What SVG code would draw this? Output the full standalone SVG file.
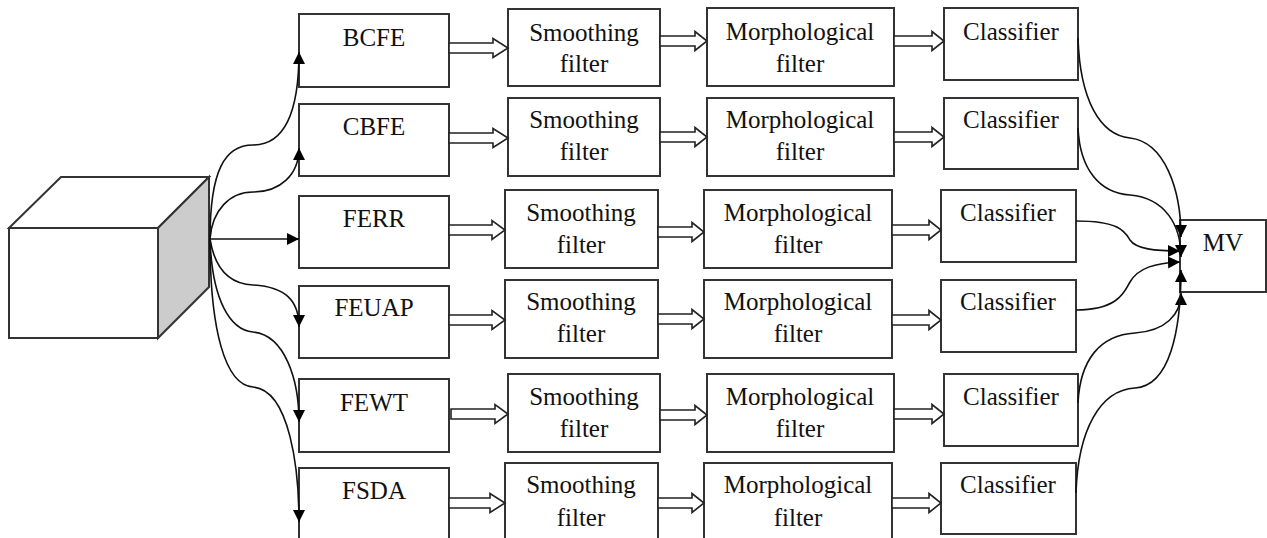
<svg xmlns="http://www.w3.org/2000/svg" width="1267" height="538" viewBox="0 0 1267 538">
<style>
.box{fill:#fff;stroke:#333;stroke-width:2}
.t{font-family:"Liberation Serif","Times New Roman",serif;font-size:25px;fill:#111;text-anchor:middle}
.ha{fill:#fff;stroke:#222;stroke-width:1.6;stroke-linejoin:miter}
.c{fill:none;stroke:#111;stroke-width:1.6}
</style>
<defs>
<marker id="ah" markerUnits="userSpaceOnUse" markerWidth="13" markerHeight="13" refX="12" refY="6" orient="auto">
<path d="M0,0 L12,6 L0,12 Z" fill="#000"/>
</marker>
</defs>
<rect width="1267" height="538" fill="#fff"/>

<g id="cube">
<polygon points="9,228 61,177 209,177 158,228" fill="#fff" stroke="#333" stroke-width="2"/>
<polygon points="158,228 209,177 209,287 158,338" fill="#ccc" stroke="#333" stroke-width="2"/>
<rect x="9" y="228" width="149" height="110" fill="#fff" stroke="#333" stroke-width="2"/>
</g>

<g id="bcfe"><rect class="box" x="299" y="14" width="150" height="73"/><text class="t" x="374" y="46">BCFE</text></g>
<g id="smooth1"><rect class="box" x="508" y="9" width="152" height="77"/><text class="t" x="584" y="41">Smoothing</text><text class="t" x="584" y="72">filter</text></g>
<g id="morph1"><rect class="box" x="707" y="8" width="187" height="78"/><text class="t" x="800" y="40">Morphological</text><text class="t" x="800" y="72">filter</text></g>
<g id="class1"><rect class="box" x="944" y="8" width="134" height="72"/><text class="t" x="1011" y="40">Classifier</text></g>

<g id="cbfe"><rect class="box" x="299" y="104" width="150" height="72"/><text class="t" x="374" y="135">CBFE</text></g>
<g id="smooth2"><rect class="box" x="508" y="98" width="152" height="78"/><text class="t" x="584" y="128">Smoothing</text><text class="t" x="584" y="160">filter</text></g>
<g id="morph2"><rect class="box" x="707" y="98" width="187" height="78"/><text class="t" x="800" y="128">Morphological</text><text class="t" x="800" y="160">filter</text></g>
<g id="class2"><rect class="box" x="944" y="98" width="134" height="71"/><text class="t" x="1011" y="128">Classifier</text></g>

<g id="ferr"><rect class="box" x="299" y="196" width="150" height="72"/><text class="t" x="374" y="227">FERR</text></g>
<g id="smooth3"><rect class="box" x="505" y="190" width="153" height="78"/><text class="t" x="581" y="221">Smoothing</text><text class="t" x="581" y="253">filter</text></g>
<g id="morph3"><rect class="box" x="704" y="190" width="188" height="78"/><text class="t" x="798" y="221">Morphological</text><text class="t" x="798" y="253">filter</text></g>
<g id="class3"><rect class="box" x="941" y="190" width="135" height="72"/><text class="t" x="1008" y="221">Classifier</text></g>

<g id="feuap"><rect class="box" x="299" y="286" width="150" height="72"/><text class="t" x="374" y="316">FEUAP</text></g>
<g id="smooth4"><rect class="box" x="505" y="280" width="153" height="78"/><text class="t" x="581" y="310">Smoothing</text><text class="t" x="581" y="342">filter</text></g>
<g id="morph4"><rect class="box" x="704" y="280" width="188" height="78"/><text class="t" x="798" y="310">Morphological</text><text class="t" x="798" y="342">filter</text></g>
<g id="class4"><rect class="box" x="941" y="280" width="135" height="72"/><text class="t" x="1008" y="310">Classifier</text></g>

<g id="fewt"><rect class="box" x="299" y="379" width="150" height="73"/><text class="t" x="374" y="411">FEWT</text></g>
<g id="smooth5"><rect class="box" x="508" y="374" width="152" height="78"/><text class="t" x="584" y="405">Smoothing</text><text class="t" x="584" y="437">filter</text></g>
<g id="morph5"><rect class="box" x="707" y="374" width="187" height="78"/><text class="t" x="800" y="405">Morphological</text><text class="t" x="800" y="437">filter</text></g>
<g id="class5"><rect class="box" x="944" y="374" width="134" height="72"/><text class="t" x="1011" y="405">Classifier</text></g>

<g id="fsda"><rect class="box" x="299" y="468" width="150" height="80"/><text class="t" x="374" y="499">FSDA</text></g>
<g id="smooth6"><rect class="box" x="505" y="463" width="153" height="85"/><text class="t" x="581" y="493">Smoothing</text><text class="t" x="581" y="526">filter</text></g>
<g id="morph6"><rect class="box" x="704" y="463" width="188" height="85"/><text class="t" x="798" y="493">Morphological</text><text class="t" x="798" y="526">filter</text></g>
<g id="class6"><rect class="box" x="941" y="463" width="135" height="71"/><text class="t" x="1008" y="493">Classifier</text></g>

<g id="mv"><rect class="box" x="1180" y="220" width="86" height="72"/><text class="t" x="1223" y="251">MV</text></g>

<g id="connectors">
<path class="c" d="M210,239 C210,170 225,145 253,145 C285,145 299,110 299,52" marker-end="url(#ah)"/>
<path class="c" d="M210,239 C212,210 230,192 253,192 C280,192 299,175 299,148" marker-end="url(#ah)"/>
<path class="c" d="M210,239 L299,239" marker-end="url(#ah)"/>
<path class="c" d="M210,239 C215,270 230,284 253,285 C285,287 299,300 299,327" marker-end="url(#ah)"/>
<path class="c" d="M210,239 C212,300 230,330 253,332 C285,335 299,380 299,422" marker-end="url(#ah)"/>
<path class="c" d="M210,239 C210,330 225,385 253,387 C290,390 299,470 299,522" marker-end="url(#ah)"/>

<path class="c" d="M1078,38 C1080,100 1100,135 1130,138 C1165,142 1181,190 1181,237" marker-end="url(#ah)"/>
<path class="c" d="M1078,128 C1080,170 1100,193 1130,195 C1165,198 1181,225 1181,257" marker-end="url(#ah)"/>
<path class="c" d="M1076,221 C1120,221 1125,232 1130,240 C1136,249 1155,251 1180,251" marker-end="url(#ah)"/>
<path class="c" d="M1076,310 C1120,310 1125,290 1130,282 C1138,268 1155,263 1180,262" marker-end="url(#ah)"/>
<path class="c" d="M1078,403 C1080,360 1100,335 1135,333 C1165,331 1181,315 1181,293" marker-end="url(#ah)"/>
<path class="c" d="M1076,493 C1078,430 1100,390 1135,388 C1170,386 1181,330 1181,270" marker-end="url(#ah)"/>

<path class="ha" d="M449,43 H493 V38.5 L508,48 L493,57.5 V53 H449 Z"/>
<path class="ha" d="M660,36 H695 V31.5 L707,41 L695,50.5 V46 H660 Z"/>
<path class="ha" d="M894,36 H932 V31.5 L944,41 L932,50.5 V46 H894 Z"/>

<path class="ha" d="M449,133 H493 V128.5 L508,138 L493,147.5 V143 H449 Z"/>
<path class="ha" d="M660,132 H695 V127.5 L707,137 L695,146.5 V142 H660 Z"/>
<path class="ha" d="M894,132 H932 V127.5 L944,137 L932,146.5 V142 H894 Z"/>

<path class="ha" d="M449,225 H492 V220.5 L505,230 L492,239.5 V235 H449 Z"/>
<path class="ha" d="M658,227 H692 V222.5 L704,232 L692,241.5 V237 H658 Z"/>
<path class="ha" d="M892,225 H929 V220.5 L941,230 L929,239.5 V235 H892 Z"/>

<path class="ha" d="M449,315 H492 V310.5 L505,320 L492,329.5 V325 H449 Z"/>
<path class="ha" d="M658,314 H692 V309.5 L704,319 L692,328.5 V324 H658 Z"/>
<path class="ha" d="M892,315 H929 V310.5 L941,320 L929,329.5 V325 H892 Z"/>

<path class="ha" d="M451,409 H495 V404.5 L508,414 L495,423.5 V419 H451 Z"/>
<path class="ha" d="M660,410 H695 V405.5 L707,415 L695,424.5 V420 H660 Z"/>
<path class="ha" d="M894,409 H932 V404.5 L944,414 L932,423.5 V419 H894 Z"/>

<path class="ha" d="M449,498 H490 V493.5 L505,503 L490,512.5 V508 H449 Z"/>
<path class="ha" d="M658,498 H692 V493.5 L704,503 L692,512.5 V508 H658 Z"/>
<path class="ha" d="M892,498 H929 V493.5 L941,503 L929,512.5 V508 H892 Z"/>
</g>
</svg>
